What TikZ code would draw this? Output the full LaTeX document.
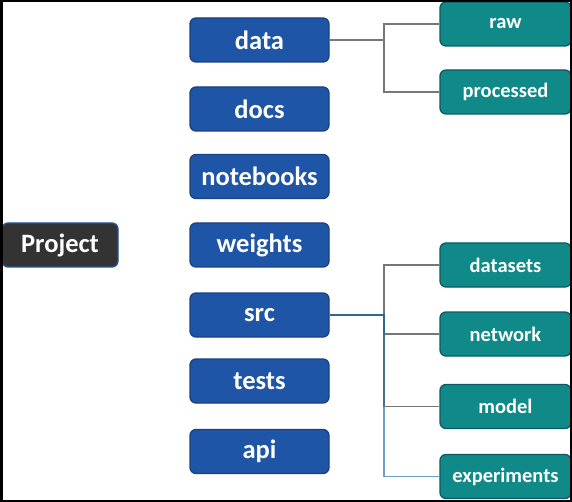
\documentclass[tikz,border=0pt]{standalone}
\usepackage{fontspec}
\setmainfont{Carlito}
\definecolor{boxblue}{HTML}{1F55A6}
\definecolor{boxblueedge}{HTML}{1A4180}
\definecolor{boxteal}{HTML}{0F8A88}
\definecolor{boxtealedge}{HTML}{0D5A66}
\definecolor{projfill}{HTML}{333333}
\definecolor{linegray}{HTML}{777777}
\definecolor{lineblue}{HTML}{2A6A90}
\definecolor{lightblue}{HTML}{6E9FCC}
\begin{document}
\begin{tikzpicture}[x=1pt,y=-1pt,
  bluebox/.style={draw=boxblueedge, line width=1.3pt, fill=boxblue, rounded corners=6pt,
     minimum width=139pt, minimum height=44pt, text=white, font=\fontsize{26.5}{30}\selectfont\bfseries, inner sep=0pt},
  tealbox/.style={draw=boxtealedge, line width=1.3pt, fill=boxteal, rounded corners=6pt,
     minimum width=131pt, minimum height=44pt, text=white, font=\fontsize{20.5}{24}\selectfont\bfseries, inner sep=0pt},
  projbox/.style={draw=boxblue, line width=1.3pt, fill=projfill, rounded corners=6pt,
     minimum width=116pt, minimum height=44pt, text=white, font=\fontsize{26.5}{30}\selectfont\bfseries, inner sep=0pt},
  conn/.style={draw=linegray, line width=1.8pt},
]
\fill[white] (0,0) rectangle (572,502);
\useasboundingbox (0,0) rectangle (572,502);

\node[projbox] (project) at (60,245) {Project};

\node[bluebox] (data) at (259.5,40) {data};
\node[bluebox] (docs) at (259.5,109) {docs};
\node[bluebox] (notebooks) at (259.5,176.5) {notebooks};
\node[bluebox] (weights) at (259.5,245) {weights};
\node[bluebox] (src) at (259.5,315) {src};
\node[bluebox] (tests) at (259.5,381) {tests};
\node[bluebox] (api) at (259.5,451.5) {api};

\node[tealbox] (raw) at (505.5,24) {raw};
\node[tealbox] (processed) at (505.5,92) {processed};
\node[tealbox] (datasets) at (505.5,265) {datasets};
\node[tealbox] (network) at (505.5,334) {network};
\node[tealbox] (model) at (505.5,406.5) {model};
\node[tealbox] (experiments) at (505.5,476.5) {experiments};

\coordinate (dj) at (384,40);
\coordinate (sj) at (384,315);

% data branch
\draw[conn] (data.east) -- (dj);
\draw[conn] (raw.west) -| (dj) |- (processed.west);

% src branch
\draw[conn] (datasets.west) -| (sj);
\draw[conn] (sj) |- (network.west);
\draw[conn] (sj |- network.west) |- (model.west);
\draw[draw=lightblue, line width=1.8pt] (sj |- model.west) |- (experiments.west);
\draw[draw=lineblue, line width=1.8pt] (src.east) -- (sj) -- (sj |- network.west);
\draw[draw=lineblue!60!linegray, line width=1.8pt] (sj |- network.west) -- (sj |- model.west);
\draw[conn] (sj |- model.west) -- (model.west);

% frame
\draw[black, line width=2.5pt] (1.25,1.25) rectangle (570.75,500.75);
\end{tikzpicture}
\end{document}
